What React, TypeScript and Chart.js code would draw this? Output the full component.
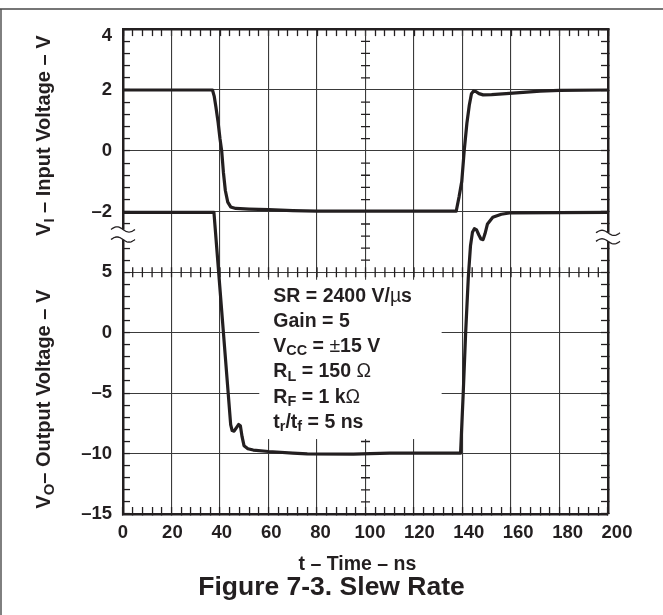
import React, { useEffect, useRef } from 'react';
import { Chart, registerables } from 'chart.js';

Chart.register(...registerables);

const FONT = '"Liberation Sans", Arial, Helvetica, sans-serif';
const INK = '#231f20';
const GRID = '#3a3a3a';
const CLEAR = 'rgba(0,0,0,0)';

// ---------------- data ----------------
const inputTime = [0, 36.9, 37.6, 38.3, 39.2, 40.0, 40.7, 41.4, 42.2, 43.2, 44.4, 46.5, 52, 60, 70, 80, 137.4, 138.6, 139.7, 140.7, 141.8, 142.8, 143.7, 144.5, 145.5, 146.8, 148.5, 152, 158, 165, 172, 180, 200];
const inputVolts = [2, 2, 1.8, 1.45, 0.95, 0.4, 0, -0.7, -1.3, -1.68, -1.84, -1.89, -1.91, -1.93, -1.96, -1.98, -1.98, -1.5, -1.0, 0, 0.9, 1.5, 1.88, 1.96, 1.95, 1.88, 1.84, 1.85, 1.88, 1.92, 1.96, 1.99, 2];

const outputTime = [0, 37.5, 44.4, 45.0, 45.8, 46.8, 47.7, 48.4, 49.1, 49.9, 51.5, 53.7, 60, 70, 76, 95, 102, 110, 139.2, 140.3, 141.3, 142.4, 143.3, 144.1, 144.9, 145.8, 146.7, 147.6, 148.5, 149.3, 150.3, 152.5, 156, 160, 200];
const outputVolts = [9.95, 9.95, -7.6, -8.1, -8.15, -7.85, -7.6, -7.7, -8.6, -9.35, -9.6, -9.71, -9.83, -9.96, -10.03, -10.04, -10.0, -9.97, -9.97, -5, 0, 4.6, 7.2, 8.3, 8.6, 8.5, 8.1, 7.75, 7.7, 8.2, 9.0, 9.55, 9.8, 9.92, 9.95];

// ---------------- ticks and labels ----------------
const timeTicks = [0, 20, 40, 60, 80, 100, 120, 140, 160, 180, 200];
const timeTickLabels = ['0', '20', '40', '60', '80', '100', '120', '140', '160', '180', '200'];
const timeMinorTicks = [0, 4, 8, 12, 16, 20, 24, 28, 32, 36, 40, 44, 48, 52, 56, 60, 64, 68, 72, 76, 80, 84, 88, 92, 96, 100, 104, 108, 112, 116, 120, 124, 128, 132, 136, 140, 144, 148, 152, 156, 160, 164, 168, 172, 176, 180, 184, 188, 192, 196, 200];

const inputTicks = [4, 3.6, 3.2, 2.8, 2.4, 2, 1.6, 1.2, 0.8, 0.4, 0, -0.4, -0.8, -1.2, -1.6, -2, -2.4, -2.8];
const inputMajor = [4, 2, 0, -2];
const inputLabels = ['4', '2', '0', '–2'];

const outputTicks = [7, 6, 5, 4, 3, 2, 1, 0, -1, -2, -3, -4, -5, -6, -7, -8, -9, -10, -11, -12, -13, -14, -15];
const outputMajor = [5, 0, -5, -10, -15];
const outputLabels = ['5', '0', '–5', '–10', '–15'];

const CENTER_TIME = 100;
const PANEL_SPLIT = 5;

type Part = { t: string; sub?: boolean; light?: boolean };

const inputTitle: Part[] = [{ t: 'V' }, { t: 'I', sub: true }, { t: ' – Input Voltage – V' }];
const outputTitle: Part[] = [{ t: 'V' }, { t: 'O', sub: true }, { t: '– Output Voltage – V' }];
const timeTitle = 't – Time – ns   ';
const caption = 'Figure 7-3. Slew Rate';

const annotationLines: Part[][] = [
  [{ t: 'SR = 2400 V/' }, { t: 'µ', light: true }, { t: 's' }],
  [{ t: 'Gain = 5' }],
  [{ t: 'V' }, { t: 'CC', sub: true }, { t: ' = ' }, { t: '±', light: true }, { t: '15 V' }],
  [{ t: 'R' }, { t: 'L', sub: true }, { t: ' = 150 ' }, { t: 'Ω', light: true }],
  [{ t: 'R' }, { t: 'F', sub: true }, { t: ' = 1 k' }, { t: 'Ω', light: true }],
  [{ t: 't' }, { t: 'r', sub: true }, { t: '/t' }, { t: 'f', sub: true }, { t: ' = 5 ns' }],
];

// ---------------- layout constants ----------------
// the two panels are stacked vertical axes: upper 206 px, lower 281 px
const UPPER_WEIGHT = 206;
const LOWER_WEIGHT = 281;
const IN_MAX = 4;
const IN_MIN = -2.736;
const OUT_MIN = -15;
const OUT_MAX = 8.147;
const LABEL_SPAN = 196.36;

const setTicks = (values: number[]) => (scale: any) => {
  scale.ticks = values.map((v) => ({ value: v }));
};
const fixW = (w: number) => (scale: any) => {
  scale.width = w;
};
const fixH = (h: number) => (scale: any) => {
  scale.height = h;
};

function richFont(p: Part, size: number) {
  return `${p.light ? 'normal' : 'bold'} ${p.sub ? size * 0.74 : size}px ${FONT}`;
}
function richWidth(ctx: CanvasRenderingContext2D, parts: Part[], size: number) {
  let w = 0;
  for (const p of parts) {
    ctx.font = richFont(p, size);
    w += ctx.measureText(p.t).width;
  }
  return w;
}
function drawRich(ctx: CanvasRenderingContext2D, parts: Part[], x: number, y: number, size: number) {
  let cx = x;
  for (const p of parts) {
    ctx.font = richFont(p, size);
    ctx.fillText(p.t, cx, y + (p.sub ? size * 0.17 : 0));
    cx += ctx.measureText(p.t).width;
  }
}

const slewDecor = {
  id: 'slewDecor',
  beforeDatasetsDraw(chart: any) {
    const { ctx, chartArea: a, scales } = chart;
    const x = scales.x;
    const yi = scales.yIn;
    const yo = scales.yOut;
    ctx.save();
    ctx.strokeStyle = INK;
    ctx.lineWidth = 1.3;
    ctx.beginPath();
    const cx = x.getPixelForValue(CENTER_TIME);
    for (const v of inputTicks) {
      if (inputMajor.includes(v)) continue;
      const py = yi.getPixelForValue(v);
      ctx.moveTo(cx - 4.5, py);
      ctx.lineTo(cx + 4.5, py);
    }
    for (const v of outputTicks) {
      if (outputMajor.includes(v)) continue;
      const py = yo.getPixelForValue(v);
      ctx.moveTo(cx - 4.5, py);
      ctx.lineTo(cx + 4.5, py);
    }
    const py5 = yo.getPixelForValue(PANEL_SPLIT);
    for (const t of timeMinorTicks) {
      if (t <= 0 || t >= 200) continue;
      const px = x.getPixelForValue(t);
      ctx.moveTo(px, py5 - 5);
      ctx.lineTo(px, py5 + 5);
    }
    ctx.stroke();

    // axis breaks
    const breakAt = (px: number, ys: number[], inward: number) => {
      ctx.fillStyle = '#fff';
      const x0 = Math.min(px - 3, px + inward);
      const x1 = Math.max(px + 3, px + inward);
      ctx.fillRect(x0, ys[0], x1 - x0, ys[1] - ys[0]);
      ctx.strokeStyle = INK;
      ctx.lineWidth = 1.3;
      for (const y0 of ys) {
        ctx.beginPath();
        for (let k = 0; k <= 24; k++) {
          const u = k / 24;
          const xx = px - 12 + 24 * u;
          const yy = y0 - 2.6 * Math.sin(2 * Math.PI * u);
          if (k) ctx.lineTo(xx, yy);
          else ctx.moveTo(xx, yy);
        }
        ctx.stroke();
      }
    };
    breakAt(a.left, [yi.getPixelForValue(-2.58), yi.getPixelForValue(-2.91)], 9);
    breakAt(a.right, [yi.getPixelForValue(-2.69), yi.getPixelForValue(-2.97)], -9);

    // annotation box
    const bx0 = x.getPixelForValue(56.2);
    const bx1 = x.getPixelForValue(131.4);
    const by0 = yo.getPixelForValue(4.38);
    const by1 = yo.getPixelForValue(-8.8);
    ctx.fillStyle = '#fff';
    ctx.fillRect(bx0, by0, bx1 - bx0, by1 - by0);
    ctx.fillStyle = INK;
    ctx.textAlign = 'left';
    ctx.textBaseline = 'alphabetic';
    const tx = x.getPixelForValue(62);
    annotationLines.forEach((parts, i) => drawRich(ctx, parts, tx, by0 + 22 + i * 25.2, 19.5));
    ctx.restore();
  },
  afterDraw(chart: any) {
    const { ctx, chartArea: a, scales } = chart;
    ctx.save();
    ctx.strokeStyle = '#4a4a4a';
    ctx.lineWidth = 1.4;
    ctx.beginPath();
    ctx.moveTo(0, 9);
    ctx.lineTo(chart.width, 9);
    ctx.moveTo(1, 9);
    ctx.lineTo(1, chart.height);
    ctx.stroke();

    ctx.fillStyle = INK;
    ctx.textAlign = 'left';
    ctx.textBaseline = 'alphabetic';
    const drawVertical = (parts: Part[], cx: number, cy: number) => {
      ctx.save();
      ctx.translate(cx, cy);
      ctx.rotate(-Math.PI / 2);
      const w = richWidth(ctx, parts, 20);
      drawRich(ctx, parts, -w / 2, 0.358 * 20, 20);
      ctx.restore();
    };
    drawVertical(inputTitle, a.left - 80, scales.yIn.getPixelForValue(0.5));
    drawVertical(outputTitle, a.left - 80, scales.yOut.getPixelForValue(-5.5));
    ctx.restore();
  },
};

const tickFont = { family: FONT, size: 18.5, weight: 'bold' as const };

const sideGrid = { drawOnChartArea: false, drawTicks: true, tickLength: -7, tickColor: INK, tickWidth: 1.3 };
const axisBorder = { display: true, color: INK, width: 2.5 };

export default function App() {
  const ref = useRef<HTMLCanvasElement>(null);
  useEffect(() => {
    if (!ref.current) return;
    const chart = new Chart(ref.current, {
      type: 'line',
      data: {
        datasets: [
          {
            label: 'Input',
            data: inputTime.map((t, i) => ({ x: t, y: inputVolts[i] })),
            xAxisID: 'x',
            yAxisID: 'yIn',
            borderColor: INK,
            borderWidth: 3.2,
            pointRadius: 0,
            tension: 0,
            fill: false,
            clip: false,
            borderJoinStyle: 'round',
          },
          {
            label: 'Output',
            data: outputTime.map((t, i) => ({ x: t, y: outputVolts[i] })),
            xAxisID: 'x',
            yAxisID: 'yOut',
            borderColor: INK,
            borderWidth: 3.2,
            pointRadius: 0,
            tension: 0,
            fill: false,
            clip: false,
            borderJoinStyle: 'round',
          },
        ],
      },
      options: {
        responsive: false,
        animation: false,
        events: [],
        layout: { padding: 0 },
        plugins: {
          legend: { display: false },
          tooltip: { enabled: false },
          title: {
            display: true,
            text: caption,
            position: 'bottom',
            color: INK,
            font: { family: FONT, size: 26.5, weight: 'bold', lineHeight: 1.2 },
            padding: { top: 0, bottom: 11 },
          },
        },
        scales: {
          xTop: {
            type: 'linear',
            position: 'top',
            min: 0,
            max: 200,
            bounds: 'data',
            weight: 0,
            afterBuildTicks: setTicks(timeMinorTicks),
            afterFit: fixH(27),
            ticks: { display: false, autoSkip: false },
            grid: sideGrid,
            border: axisBorder,
          },
          x: {
            type: 'linear',
            position: 'bottom',
            min: 0,
            max: 200,
            bounds: 'data',
            weight: 0,
            afterBuildTicks: setTicks(timeMinorTicks),
            afterFit: fixH(0),
            ticks: { display: false, autoSkip: false },
            grid: {
              color: (c: any) => (c.tick && timeTicks.includes(c.tick.value) ? GRID : CLEAR),
              lineWidth: 1.1,
              drawTicks: true,
              tickLength: -7,
              tickColor: INK,
              tickWidth: 1.3,
            },
            border: axisBorder,
          },
          xLabels: {
            type: 'linear',
            position: 'bottom',
            min: 0,
            max: LABEL_SPAN,
            bounds: 'data',
            weight: 1,
            afterBuildTicks: setTicks(timeTicks),
            afterFit: fixH(58.2),
            ticks: {
              autoSkip: false,
              maxRotation: 0,
              minRotation: 0,
              padding: 7.6,
              color: INK,
              font: tickFont,
              callback: (v: any) => timeTickLabels[timeTicks.indexOf(v)] ?? '',
            },
            grid: { display: false, drawTicks: false },
            border: { display: false },
            title: {
              display: true,
              text: timeTitle,
              color: INK,
              font: { family: FONT, size: 19.5, weight: 'bold' },
              padding: { top: 0, bottom: -4.5 },
            },
          },
          yIn: {
            type: 'linear',
            position: 'left',
            stack: 'leftPanels',
            stackWeight: UPPER_WEIGHT,
            min: IN_MIN,
            max: IN_MAX,
            bounds: 'data',
            weight: 1,
            afterBuildTicks: setTicks(inputTicks),
            afterFit: fixW(123),
            ticks: {
              autoSkip: false,
              padding: 18,
              color: INK,
              font: { ...tickFont, lineHeight: 0.76 },
              callback: (v: any) => {
                const i = inputMajor.indexOf(v);
                if (i < 0) return '';
                return i === 0 ? ['', inputLabels[i]] : inputLabels[i];
              },
            },
            grid: {
              color: (c: any) => (c.tick && inputMajor.includes(c.tick.value) ? GRID : CLEAR),
              lineWidth: 1.1,
              drawTicks: true,
              tickLength: -7,
              tickColor: INK,
              tickWidth: 1.3,
            },
            border: axisBorder,
          },
          yOut: {
            type: 'linear',
            position: 'left',
            stack: 'leftPanels',
            stackWeight: LOWER_WEIGHT,
            min: OUT_MIN,
            max: OUT_MAX,
            bounds: 'data',
            weight: 0,
            afterBuildTicks: setTicks(outputTicks),
            afterFit: fixW(123),
            ticks: {
              autoSkip: false,
              padding: 18,
              color: INK,
              font: tickFont,
              callback: (v: any) => {
                const i = outputMajor.indexOf(v);
                return i < 0 ? '' : outputLabels[i];
              },
            },
            grid: {
              color: (c: any) => (c.tick && outputMajor.includes(c.tick.value) ? GRID : CLEAR),
              lineWidth: 1.1,
              drawTicks: true,
              tickLength: -7,
              tickColor: INK,
              tickWidth: 1.3,
            },
            border: axisBorder,
          },
          yInR: {
            type: 'linear',
            position: 'right',
            stack: 'rightPanels',
            stackWeight: UPPER_WEIGHT,
            min: IN_MIN,
            max: IN_MAX,
            bounds: 'data',
            weight: 0,
            afterBuildTicks: setTicks(inputTicks),
            afterFit: fixW(55),
            ticks: { display: false, autoSkip: false },
            grid: sideGrid,
            border: axisBorder,
          },
          yOutR: {
            type: 'linear',
            position: 'right',
            stack: 'rightPanels',
            stackWeight: LOWER_WEIGHT,
            min: OUT_MIN,
            max: OUT_MAX,
            bounds: 'data',
            weight: 1,
            afterBuildTicks: setTicks(outputTicks),
            afterFit: fixW(55),
            ticks: { display: false, autoSkip: false },
            grid: sideGrid,
            border: axisBorder,
          },
        },
      } as any,
      plugins: [slewDecor],
    });
    return () => chart.destroy();
  }, []);

  return (
    <div style={{ position: 'absolute', left: 0, top: 0, width: 663, height: 615, background: '#fff' }}>
      <canvas ref={ref} width={663} height={615} style={{ display: 'block', width: 663, height: 615 }} />
    </div>
  );
}
